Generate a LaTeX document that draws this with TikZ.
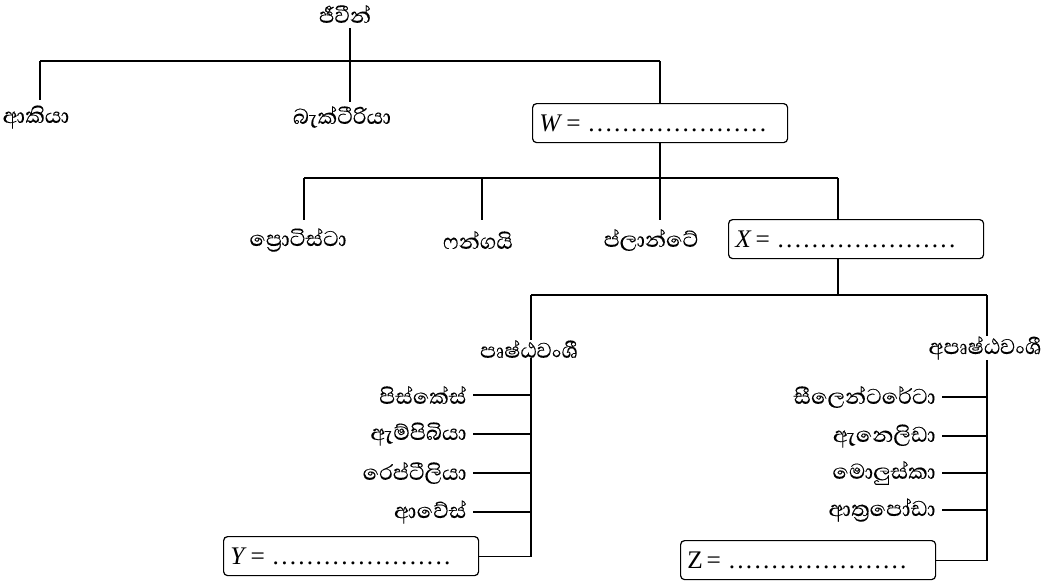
\documentclass[tikz,border=0pt]{standalone}
\usepackage{fontspec}
\setmainfont{Liberation Serif}
\newfontfamily\sinhalafont[Script=Sinhala,FakeBold=0.12]{Abhaya Libre}
% row of dots for an answer blank
\newcommand\ansdots{\hbox to 135pt{\xleaders\hbox to 6.4pt{\hss.\hss}\hfill}}
\begin{document}
\begin{tikzpicture}[x=0.75pt,y=-0.75pt,
  line width=0.8pt,
  lbl/.style={font=\sinhalafont\fontsize{20.5}{22}\selectfont, inner sep=0pt},
  ansbox/.style={draw, rounded corners=3pt, line width=0.9pt, inner sep=0pt,
    anchor=north west, minimum width=191.25pt, minimum height=29.25pt,
    font=\fontsize{19}{21}\selectfont},
]
\useasboundingbox (0,0) rectangle (1049,586);

% ---- level 1
\node[lbl] (root) at (345,14) {ජීවීන්};
\node[lbl] (arch) at (36,117) {ආකියා};
\node[lbl] (bact) at (342,117) {බැක්ටීරියා};
\node[ansbox] (W) at (532,103) {\hbox to 191.25pt{\hspace{5pt}\textit{W}\hspace{3pt}=\hspace{5pt}\ansdots\hss}};

\coordinate (r0) at (350,28);
\coordinate (h1a) at (40,61);
\coordinate (h1b) at (350,61);
\coordinate (h1c) at (660,61);
\coordinate (archtop) at (40,100);
\coordinate (bacttop) at (350,102);
\draw (h1a) -- (h1c);
\draw (r0) -- (h1b);
\draw (h1a) -- (archtop);
\draw (h1b) -- (bacttop);
\draw (h1c) -- (h1c |- W.north);

% ---- level 2
\node[lbl] (prot) at (298,240) {ප්^^^^200dරොටිස්ටා};
\node[lbl] (fung) at (478,240) {ෆන්ගයි};
\node[lbl] (plan) at (651,240) {ප්ලාන්ටේ};
\node[ansbox] (X) at (728,219) {\hbox to 191.25pt{\hspace{5pt}\textit{X}\hspace{3pt}=\hspace{5pt}\ansdots\hss}};

\coordinate (h2a) at (304,178);
\coordinate (h2b) at (482,178);
\coordinate (h2c) at (660,178);
\coordinate (h2d) at (838,178);
\coordinate (prottop) at (304,220);
\coordinate (fungtop) at (482,220);
\coordinate (plantop) at (660,220);
\draw (h1c |- W.south) -- (h2c);
\draw (h2a) -- (h2d);
\draw (h2a) -- (prottop);
\draw (h2b) -- (fungtop);
\draw (h2c) -- (plantop);
\draw (h2d) -- (h2d |- X.north);

% ---- level 3
\coordinate (h3m) at (838,295);
\coordinate (h3a) at (531,295);
\coordinate (h3b) at (987,295);
\draw (h3m |- X.south) -- (h3m);
\draw (h3a) -- (h3b);

\node[lbl] (vert) at (529,349) {පෘෂ්ඨවංශී};
\node[lbl] (invt) at (985,348) {අපෘෂ්ඨවංශී};

\node[lbl, anchor=east] (pis) at (467,395) {පිස්කේස්};
\node[lbl, anchor=east] (amp) at (467,434) {ඇම්පිබියා};
\node[lbl, anchor=east] (rep) at (467,473) {රෙප්ටීලියා};
\node[lbl, anchor=east] (ave) at (467,512) {ආවේස්};
\node[ansbox] (Y) at (223,536) {\hbox to 191.25pt{\hspace{5pt}\textit{Y}\hspace{3pt}=\hspace{5pt}\ansdots\hss}};

\node[lbl, anchor=east] (coe) at (936,397) {සීලෙන්ටරේටා};
\node[lbl, anchor=east] (ann) at (936,436) {ඇනෙලිඩා};
\node[lbl, anchor=east] (mol) at (936,473) {මොලුස්කා};
\node[lbl, anchor=east] (art) at (936,510) {ආත්^^^^200dරපෝඩා};
\node[ansbox] (Z) at (680,540) {\hbox to 191.25pt{\hspace{5pt}Z\hspace{3pt}=\hspace{5pt}\ansdots\hss}};

\draw (h3a) -- (h3a |- vert.north);
\draw (h3a |- vert.south) |- (Y.east);
\draw (h3b) -- (h3b |- invt.north);
\draw (h3b |- invt.south) |- (Z.east);

\foreach \n in {pis,amp,rep,ave}
  \draw ([xshift=4.5pt]\n.east) -- (\n.east -| h3a);
\foreach \n in {coe,ann,mol,art}
  \draw ([xshift=4.5pt]\n.east) -- (\n.east -| h3b);
\end{tikzpicture}
\end{document}
